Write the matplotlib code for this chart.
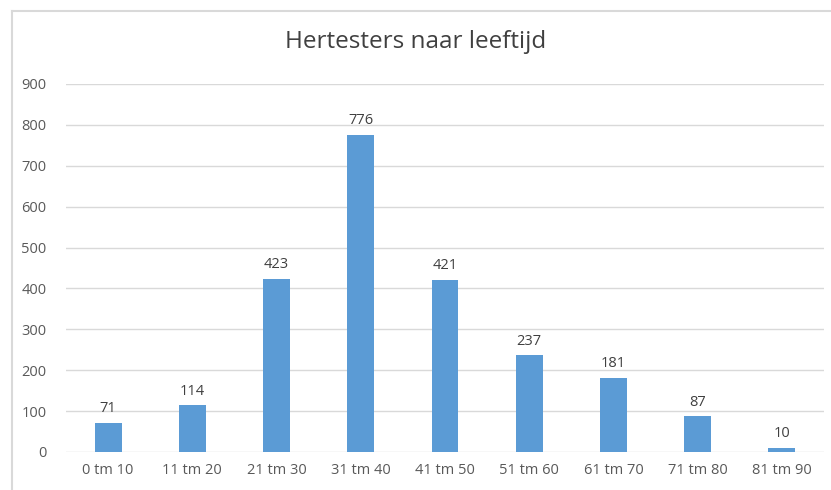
import matplotlib
matplotlib.use("Agg")
import matplotlib.pyplot as plt
from matplotlib.lines import Line2D

categories = ["0 tm 10", "11 tm 20", "21 tm 30", "31 tm 40", "41 tm 50",
              "51 tm 60", "61 tm 70", "71 tm 80", "81 tm 90"]
values = [71, 114, 423, 776, 421, 237, 181, 87, 10]
yticks = [0, 100, 200, 300, 400, 500, 600, 700, 800, 900]

plt.rcParams['font.family'] = ['Open Sans', 'DejaVu Sans']
grey = '#595959'

fig = plt.figure(figsize=(8.31, 4.9), dpi=100)
ax = fig.add_axes([0.0794, 0.0776, 0.9122, 0.751])

x = range(len(categories))
bars = ax.bar(x, values, width=0.32, color='#5b9bd5', zorder=3)
for b, v in zip(bars, values):
    ax.text(b.get_x() + b.get_width() / 2, v + 16, str(v), ha='center',
            va='bottom', fontsize=10.5, color='#404040')

ax.set_xlim(-0.5, len(categories) - 0.5)
ax.set_ylim(0, 900)
ax.set_yticks(yticks)
ax.set_xticks(list(x))
ax.set_xticklabels(categories)
ax.grid(axis='y', color='#d9d9d9', linewidth=1, zorder=0)
for s in ax.spines.values():
    s.set_visible(False)
ax.tick_params(length=0, labelsize=10.5, colors=grey, pad=8)
ax.tick_params(axis='y', pad=14)

fig.text(0.5, 0.915, "Hertesters naar leeftijd", ha='center', va='center',
         fontsize=17.5, color='#404040')

# chart border
fig.add_artist(Line2D([12 / 831, 12 / 831], [0, 1 - 11 / 490], color='#d9d9d9', lw=1.5))
fig.add_artist(Line2D([12 / 831, 1], [1 - 11 / 490, 1 - 11 / 490], color='#d9d9d9', lw=1.5))

fig.savefig("out.png", dpi=100)
